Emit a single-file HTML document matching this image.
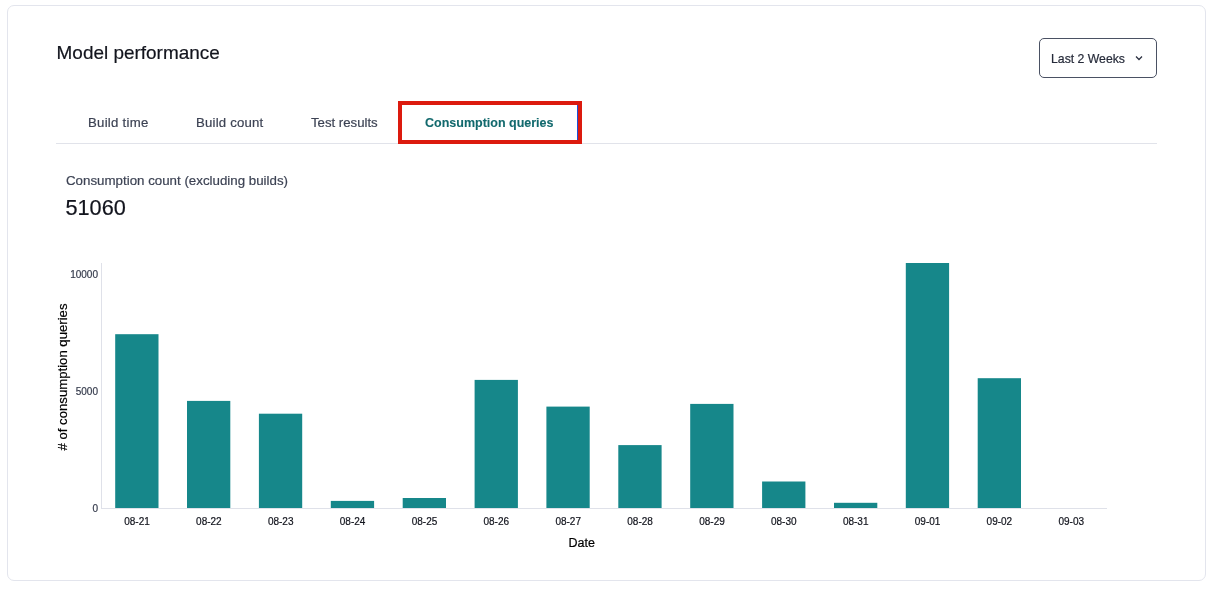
<!DOCTYPE html>
<html lang="en">
<head>
<meta charset="utf-8">
<title>Model performance</title>
<style>
  html,body{margin:0;padding:0;background:#fff;}
  body{width:1228px;height:590px;position:relative;overflow:hidden;font-family:"Liberation Sans",sans-serif;color:#12141d;}
  .abs{position:absolute;white-space:nowrap;line-height:1;-webkit-text-stroke:0.2px currentColor;}
  #card{position:absolute;left:7px;top:5px;width:1197px;height:574px;border:1px solid #e3e5ed;border-radius:7px;background:#fff;}
  #title{left:56.6px;top:44px;font-size:18.95px;color:#12141d;}
  #dd{position:absolute;left:1039px;top:38px;width:116px;height:38px;border:1px solid #4a5163;border-radius:5px;background:#fff;}
  #ddtxt{left:1051px;top:53px;font-size:12.25px;color:#262b3a;}
  #tabline{position:absolute;left:56px;top:143px;width:1101px;height:1px;background:#e1e3ea;}
  .tab{font-size:13.2px;color:#3d4354;top:116px;}
  #tabsel{-webkit-text-stroke:0.1px currentColor;font-weight:bold;color:#12696d;font-size:12.5px;top:117px;left:425px;}
  #red{position:absolute;left:398px;top:101px;width:176px;height:35px;border:4px solid #dc1a0e;}
  #blue{position:absolute;left:577px;top:105px;width:1px;height:35px;background:#1d4fd8;}
  #cc{left:66px;top:174px;font-size:13.32px;color:#3d4354;}
  #num{left:65.5px;top:197px;font-size:21.7px;color:#12141d;}
  #ylab{left:63px;top:377.3px;font-size:13.16px;color:#000;transform:translate(-50%,-50%) rotate(-90deg);}
  #xlab{left:581.8px;top:537px;font-size:12.5px;color:#000;transform:translateX(-50%);}
  svg text{font-family:"Liberation Sans",sans-serif;font-size:10px;stroke-width:0.2px;}
</style>
</head>
<body>
<div id="card"></div>
<div class="abs" id="title">Model performance</div>
<div id="dd"></div>
<div class="abs" id="ddtxt">Last 2 Weeks</div>
<svg class="abs" style="left:1134px;top:54px" width="10" height="8" viewBox="0 0 10 8"><path d="M2 2.5 L5 5.5 L8 2.5" fill="none" stroke="#2b3040" stroke-width="1.25"/></svg>
<div id="tabline"></div>
<div class="abs tab" style="left:88px;letter-spacing:0.27px">Build time</div>
<div class="abs tab" style="left:196px;letter-spacing:0.2px">Build count</div>
<div class="abs tab" style="left:311px">Test results</div>
<div class="abs" id="tabsel">Consumption queries</div>
<div id="red"></div>
<div id="blue"></div>
<div class="abs" id="cc">Consumption count (excluding builds)</div>
<div class="abs" id="num">51060</div>
<div class="abs" id="ylab"># of consumption queries</div>
<div class="abs" id="xlab">Date</div>
<svg class="abs" style="left:0;top:0" width="1228" height="590" viewBox="0 0 1228 590">
  <rect x="101" y="263" width="1" height="246" fill="#dfe1e9"/>
  <rect x="101" y="508" width="1006" height="1" fill="#dfe1e9"/>
  <g fill="#16878a">
    <rect x="115.2" y="334.2" width="43.3" height="173.8"/>
    <rect x="187.0" y="400.9" width="43.3" height="107.1"/>
    <rect x="258.9" y="413.7" width="43.3" height="94.3"/>
    <rect x="330.8" y="500.9" width="43.3" height="7.1"/>
    <rect x="402.7" y="498" width="43.3" height="10"/>
    <rect x="474.6" y="379.9" width="43.3" height="128.1"/>
    <rect x="546.4" y="406.6" width="43.3" height="101.4"/>
    <rect x="618.3" y="445.1" width="43.3" height="62.9"/>
    <rect x="690.2" y="403.9" width="43.3" height="104.1"/>
    <rect x="762.1" y="481.5" width="43.3" height="26.5"/>
    <rect x="834.0" y="502.8" width="43.3" height="5.2"/>
    <rect x="905.8" y="263" width="43.3" height="245"/>
    <rect x="977.7" y="378.2" width="43.3" height="129.8"/>
  </g>
  <g fill="#353b4c" stroke="#353b4c" text-anchor="end">
    <text x="98" y="278">10000</text>
    <text x="98" y="395">5000</text>
    <text x="98" y="512">0</text>
  </g>
  <g fill="#12141d" stroke="#12141d" text-anchor="middle">
    <text x="137" y="524.5">08-21</text>
    <text x="208.9" y="524.5">08-22</text>
    <text x="280.7" y="524.5">08-23</text>
    <text x="352.6" y="524.5">08-24</text>
    <text x="424.5" y="524.5">08-25</text>
    <text x="496.3" y="524.5">08-26</text>
    <text x="568.2" y="524.5">08-27</text>
    <text x="640.1" y="524.5">08-28</text>
    <text x="712" y="524.5">08-29</text>
    <text x="783.8" y="524.5">08-30</text>
    <text x="855.7" y="524.5">08-31</text>
    <text x="927.6" y="524.5">09-01</text>
    <text x="999.4" y="524.5">09-02</text>
    <text x="1071.3" y="524.5">09-03</text>
  </g>
</svg>
</body>
</html>
